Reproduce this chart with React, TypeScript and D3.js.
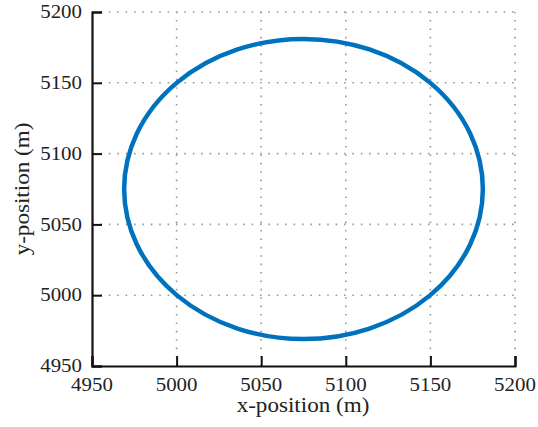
import React, { useEffect, useRef } from "react";
import * as d3 from "d3";

// trajectory: circle centre and radius (m)
const centreX = [5075];
const centreY = [5075];
const radius = [106];

const xTicks = [4950, 5000, 5050, 5100, 5150, 5200];
const yTicks = [4950, 5000, 5050, 5100, 5150, 5200];
const xDomain = [4950, 5200];
const yDomain = [4950, 5200];

const App = () => {
  const ref = useRef<SVGSVGElement>(null);

  useEffect(() => {
    const svg = d3.select(ref.current);
    svg.selectAll("*").remove();

    const left = 92, right = 515, top = 12, bottom = 366;
    const x = d3.scaleLinear().domain(xDomain).range([left, right]);
    const y = d3.scaleLinear().domain(yDomain).range([bottom, top]);
    const font = "'Liberation Serif', 'Times New Roman', serif";

    // grid
    const grid = svg.append("g");
    grid.selectAll(".gx")
      .data(xTicks.slice(1))
      .enter()
      .append("line")
      .attr("x1", d => x(d)).attr("x2", d => x(d))
      .attr("y1", bottom).attr("y2", top)
      .attr("stroke", "#999")
      .attr("stroke-width", 1.6)
      .attr("stroke-dasharray", "1.6,6.8");
    grid.selectAll(".gy")
      .data(yTicks.slice(1))
      .enter()
      .append("line")
      .attr("x1", left).attr("x2", right)
      .attr("y1", d => y(d)).attr("y2", d => y(d))
      .attr("stroke", "#999")
      .attr("stroke-width", 1.6)
      .attr("stroke-dasharray", "1.6,6.8");

    // the path
    svg.append("ellipse")
      .attr("cx", x(centreX[0]))
      .attr("cy", y(centreY[0]))
      .attr("rx", x(centreX[0] + radius[0]) - x(centreX[0]))
      .attr("ry", y(centreY[0]) - y(centreY[0] + radius[0]))
      .attr("fill", "none")
      .attr("stroke", "#0072BD")
      .attr("stroke-width", 4.5);

    // axes, ticks inward
    const xAxis = d3.axisTop(x).tickValues(xTicks).tickSize(10).tickFormat(() => "");
    const xMinor = d3.axisTop(x).ticks(25).tickSize(5).tickFormat(() => "");
    const yAxis = d3.axisRight(y).tickValues(yTicks).tickSize(10).tickFormat(() => "");
    const yMinor = d3.axisRight(y).ticks(25).tickSize(5).tickFormat(() => "");

    const gx = svg.append("g").attr("transform", `translate(0,${bottom})`);
    gx.call(xMinor);
    gx.call(xAxis);
    const gy = svg.append("g").attr("transform", `translate(${left},0)`);
    gy.call(yMinor);
    gy.call(yAxis);
    svg.selectAll(".domain").attr("stroke", "#111").attr("stroke-width", 2.2);
    svg.selectAll(".tick line").attr("stroke", "#111").attr("stroke-width", 2);

    // tick labels (font drawn a little wide)
    svg.selectAll(".xlab")
      .data(xTicks)
      .enter()
      .append("text")
      .attr("transform", d => `translate(${x(d)},391) scale(1.1,1)`)
      .attr("text-anchor", "middle")
      .style("font-family", font)
      .style("font-size", "19px")
      .attr("fill", "#222")
      .text(d => d);
    svg.selectAll(".ylab")
      .data(yTicks)
      .enter()
      .append("text")
      .attr("transform", d => `translate(82,${y(d)}) scale(1.1,1)`)
      .attr("dy", "0.33em")
      .attr("text-anchor", "end")
      .style("font-family", font)
      .style("font-size", "19px")
      .attr("fill", "#222")
      .text(d => d);

    svg.append("text")
      .attr("transform", `translate(303,412) scale(1.1,1)`)
      .attr("text-anchor", "middle")
      .style("font-family", font)
      .style("font-size", "21px")
      .attr("fill", "#222")
      .text("x-position (m)");
    svg.append("text")
      .attr("transform", `translate(29,189) rotate(-90) scale(1.1,1)`)
      .attr("text-anchor", "middle")
      .style("font-family", font)
      .style("font-size", "21px")
      .attr("fill", "#222")
      .text("y-position (m)");
  }, []);

  return (
    <svg ref={ref} width="538" height="427"
      style={{ position: "absolute", left: 0, top: 0, background: "#fff" }} />
  );
};

export default App;
